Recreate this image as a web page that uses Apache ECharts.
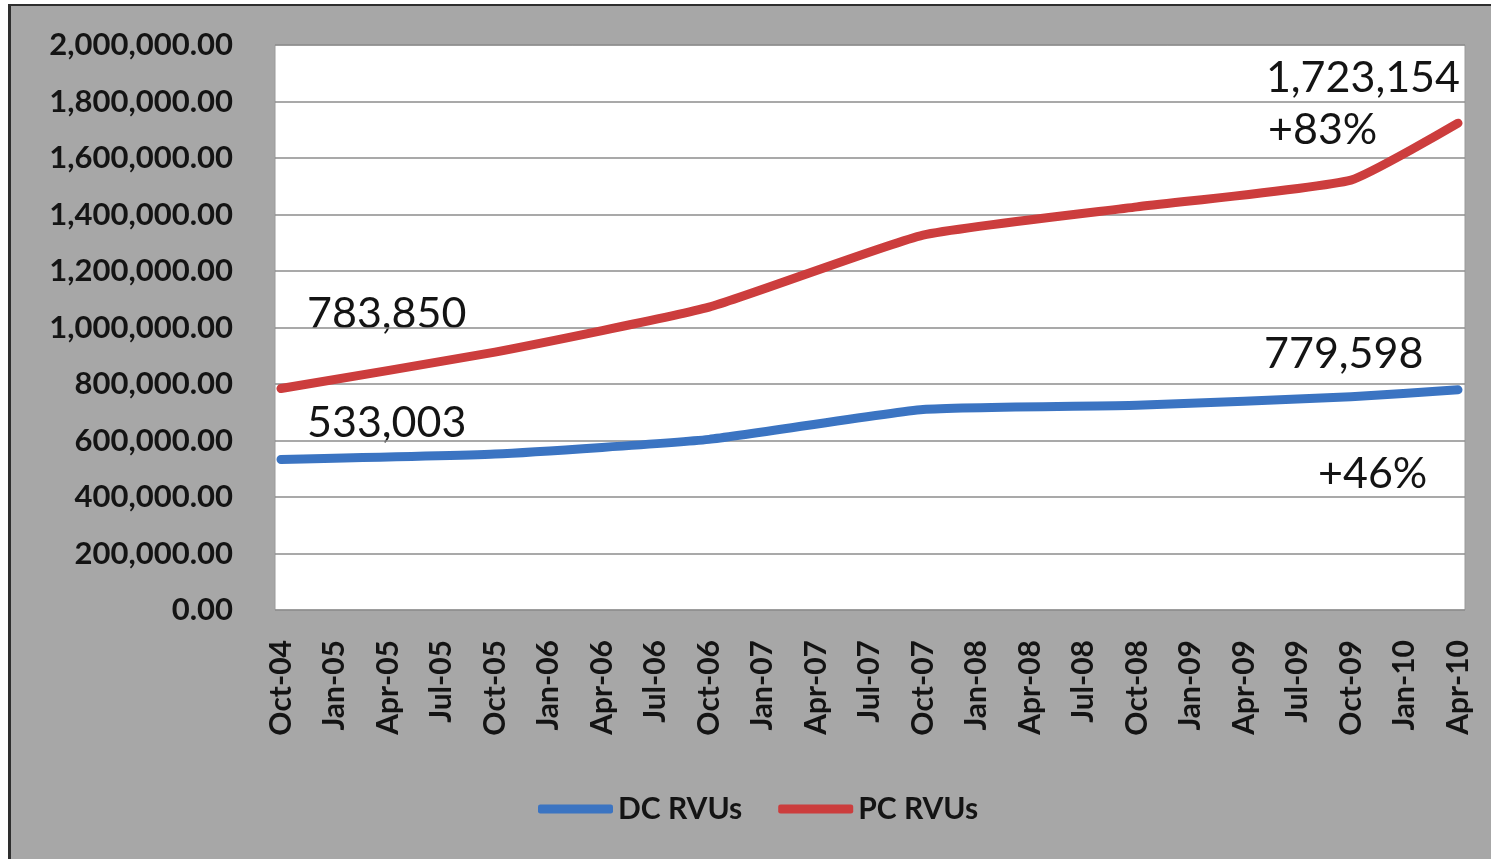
<!DOCTYPE html>
<html lang="en">
<head>
    <meta charset="UTF-8">
    <title>RVUs</title>
    <style>
        body {
            margin: 0;
            background: #ffffff;
            font-family: Lato, sans-serif;
        }

        /* grey frame behind the chart */
        #frame {
            position: absolute;
            left: 8px;
            top: 4px;
            width: 1500px;
            height: 900px;
            background: #a7a7a7;
            border-left: 3px solid #2e2e2e;
            border-top: 2px solid #2e2e2e;
        }

        #chart-canvas {
            position: absolute;
            left: 0;
            top: 0;
            width: 1491px;
            height: 859px;
        }
    </style>
</head>
<body>
<div id="frame"></div>
<div id="chart-canvas"></div>
<script src="https://cdn.jsdelivr.net/npm/echarts@6/dist/echarts.min.js"></script>
<script type="text/javascript">
    // quarter tick labels, one every 3 months from Oct-04
    const tickLabels = ["Oct-04", "Jan-05", "Apr-05", "Jul-05", "Oct-05", "Jan-06", "Apr-06", "Jul-06",
        "Oct-06", "Jan-07", "Apr-07", "Jul-07", "Oct-07", "Jan-08", "Apr-08", "Jul-08",
        "Oct-08", "Jan-09", "Apr-09", "Jul-09", "Oct-09", "Jan-10", "Apr-10"]

    // months since Oct-04 where the series have values
    const months = [0, 12, 24, 36, 48, 60, 66]
    const dcRvus = [533003, 552000, 604000, 710000, 725000, 755000, 779598]
    const pcRvus = [783850, 913000, 1072000, 1327000, 1427000, 1522000, 1723154]

    const seriesNames = ["DC RVUs", "PC RVUs"]
    const colorList = ["#3b74c2", "#cc3d3d"]

    function pairs(values) {
        return months.map((m, i) => [m, values[i]])
    }

    function money(v) {
        return v.toLocaleString("en-US", {minimumFractionDigits: 2, maximumFractionDigits: 2})
    }

    // free text notes placed on the plot
    function note(text, x, y, align) {
        return {
            type: "text",
            x: x,
            y: y,
            style: {
                text: text,
                fill: "#141414",
                font: "43px Lato",
                textAlign: align || "left",
                textVerticalAlign: "middle"
            }
        }
    }

    const yRange = {type: "value", min: 0, max: 2000000, interval: 200000}

    let myChart = echarts.init(document.getElementById('chart-canvas'));
    myChart.setOption({
        animation: false,
        grid: [
            // data grid, points sit a little inside the white area
            {left: 281, right: 33, top: 45, bottom: 249},
            // white plot area with the gridlines
            {
                left: 275, right: 26, top: 45, bottom: 249, show: true,
                backgroundColor: "#ffffff", borderColor: "#9a9a9a", borderWidth: 1
            }
        ],
        xAxis: [
            {
                type: "value",
                min: 0,
                max: 66,
                interval: 3,
                axisLine: {show: false},
                axisTick: {show: false},
                splitLine: {show: false},
                axisLabel: {
                    rotate: 90,
                    margin: 30,
                    color: "#141414",
                    fontFamily: "Lato",
                    fontWeight: "bold",
                    fontSize: 30,
                    formatter: v => tickLabels[v / 3]
                }
            },
            {gridIndex: 1, type: "value", min: 0, max: 1, show: false}
        ],
        yAxis: [
            Object.assign({
                axisLine: {show: false},
                axisTick: {show: false},
                splitLine: {show: false},
                axisLabel: {
                    margin: 48,
                    color: "#141414",
                    fontFamily: "Lato",
                    fontWeight: "bold",
                    fontSize: 31,
                    formatter: money
                }
            }, yRange),
            Object.assign({
                gridIndex: 1,
                axisLine: {show: false},
                axisTick: {show: false},
                axisLabel: {show: false},
                splitLine: {lineStyle: {color: "#8c8c8c", width: 1.5}}
            }, yRange)
        ],
        legend: {
            left: 533,
            top: 789,
            itemWidth: 75,
            itemHeight: 9,
            itemGap: 36,
            icon: "roundRect",
            textStyle: {
                color: "#141414",
                fontFamily: "Lato",
                fontWeight: "bold",
                fontSize: 30
            },
            data: seriesNames
        },
        series: [dcRvus, pcRvus].map((values, index) => ({
            name: seriesNames[index],
            type: "line",
            data: pairs(values),
            color: colorList[index],
            showSymbol: false,
            smooth: 0.15,
            z: 5,
            lineStyle: {width: 9, cap: "round", join: "round"}
        })),
        graphic: [
            note("783,850", 307, 314),
            note("533,003", 307, 423),
            note("1,723,154", 1460, 78, "right"),
            note("+83%", 1268, 130),
            note("779,598", 1264, 354),
            note("+46%", 1318, 474)
        ]
    });
</script>
</body>
</html>
